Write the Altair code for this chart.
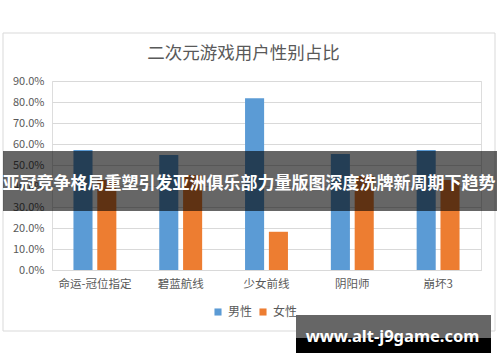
import altair as alt
import pandas as pd

games = ["命运-冠位指定", "碧蓝航线", "少女前线", "阴阳师", "崩坏3"]
male = [0.571, 0.548, 0.818, 0.552, 0.572]
female = [0.429, 0.452, 0.182, 0.448, 0.428]
series = ["男性", "女性"]
colors = ["#5B9BD5", "#ED7D31"]
y_ticks = [0.0, 0.1, 0.2, 0.3, 0.4, 0.5, 0.6, 0.7, 0.8, 0.9]

title_text = "二次元游戏用户性别占比"
banner_text = "亚冠竞争格局重塑引发亚洲俱乐部力量版图深度洗牌新周期下趋势"
watermark_text = "www.alt-j9game.com"

FONT = "Noto Sans CJK SC"
GRAY = "#595959"

rows = []
for g, m, f in zip(games, male, female):
    rows.append({"game": g, "sex": series[0], "value": m})
    rows.append({"game": g, "sex": series[1], "value": f})
df = pd.DataFrame(rows)

one = alt.Data(values=[{"k": 1}])

frame = alt.Chart(one).mark_rect(filled=False, stroke="#D9D9D9", strokeWidth=1).encode(
    x=alt.value(-49), x2=alt.value(443), y=alt.value(-48), y2=alt.value(250)
)

title = alt.Chart(one).mark_text(
    text=title_text, font=FONT, fontSize=17.5, color=GRAY, align="center", baseline="middle"
).encode(x=alt.value(191.5), y=alt.value(-27))

bars = alt.Chart(df).mark_bar().encode(
    x=alt.X("game:N", sort=games, title=None,
            scale=alt.Scale(paddingInner=0.5, paddingOuter=0.25),
            axis=alt.Axis(labelAngle=0, ticks=False, domainColor="#D9D9D9", domainWidth=1,
                          labelFont=FONT, labelFontSize=11.5, labelColor=GRAY, labelPadding=8)),
    xOffset=alt.XOffset("sex:N", sort=series, scale=alt.Scale(paddingInner=0.2, paddingOuter=0)),
    y=alt.Y("value:Q", title=None, scale=alt.Scale(domain=[0, 0.9], nice=False),
            axis=alt.Axis(format=".1%", values=y_ticks, grid=True, gridColor="#D9D9D9",
                          domain=False, ticks=False, labelPadding=8, labelFont=FONT,
                          labelFontSize=11, labelColor=GRAY)),
    color=alt.Color("sex:N", sort=series, title=None,
                    scale=alt.Scale(domain=series, range=colors),
                    legend=alt.Legend(orient="none", legendX=160, legendY=225, direction="horizontal",
                                      symbolType="square", symbolSize=50, symbolStrokeWidth=0,
                                      labelFont=FONT, labelFontSize=12, labelColor=GRAY,
                                      labelOffset=4, columnPadding=4)),
)

banner = alt.Chart(one).mark_rect(fill="black", opacity=0.6).encode(
    x=alt.value(-49), x2=alt.value(445), y=alt.value(70), y2=alt.value(130)
)
banner_t = alt.Chart(one).mark_text(
    text=banner_text, font=FONT, fontSize=17, fontWeight="bold", color="white",
    align="center", baseline="middle"
).encode(x=alt.value(197), y=alt.value(103))

wm_top = alt.Chart(one).mark_rect(fill="#666666").encode(
    x=alt.value(244), x2=alt.value(439), y=alt.value(234), y2=alt.value(257)
)
wm_bot = alt.Chart(one).mark_rect(fill="black").encode(
    x=alt.value(244), x2=alt.value(439), y=alt.value(257), y2=alt.value(272)
)
wm_t = alt.Chart(one).mark_text(
    text=watermark_text, font="Noto Sans", fontSize=16.5, fontWeight="bold", color="white",
    align="center", baseline="middle"
).encode(x=alt.value(340.5), y=alt.value(255.5))

chart = alt.layer(frame, title, bars, banner, banner_t, wm_top, wm_bot, wm_t).properties(
    width=429, height=189,
    autosize=alt.AutoSizeParams(type="none"),
    padding={"left": 52, "top": 81, "right": 19, "bottom": 92},
).configure_view(stroke=None).configure(background="white")

chart.save("out.html", embed_options={"renderer": "svg", "actions": False})
